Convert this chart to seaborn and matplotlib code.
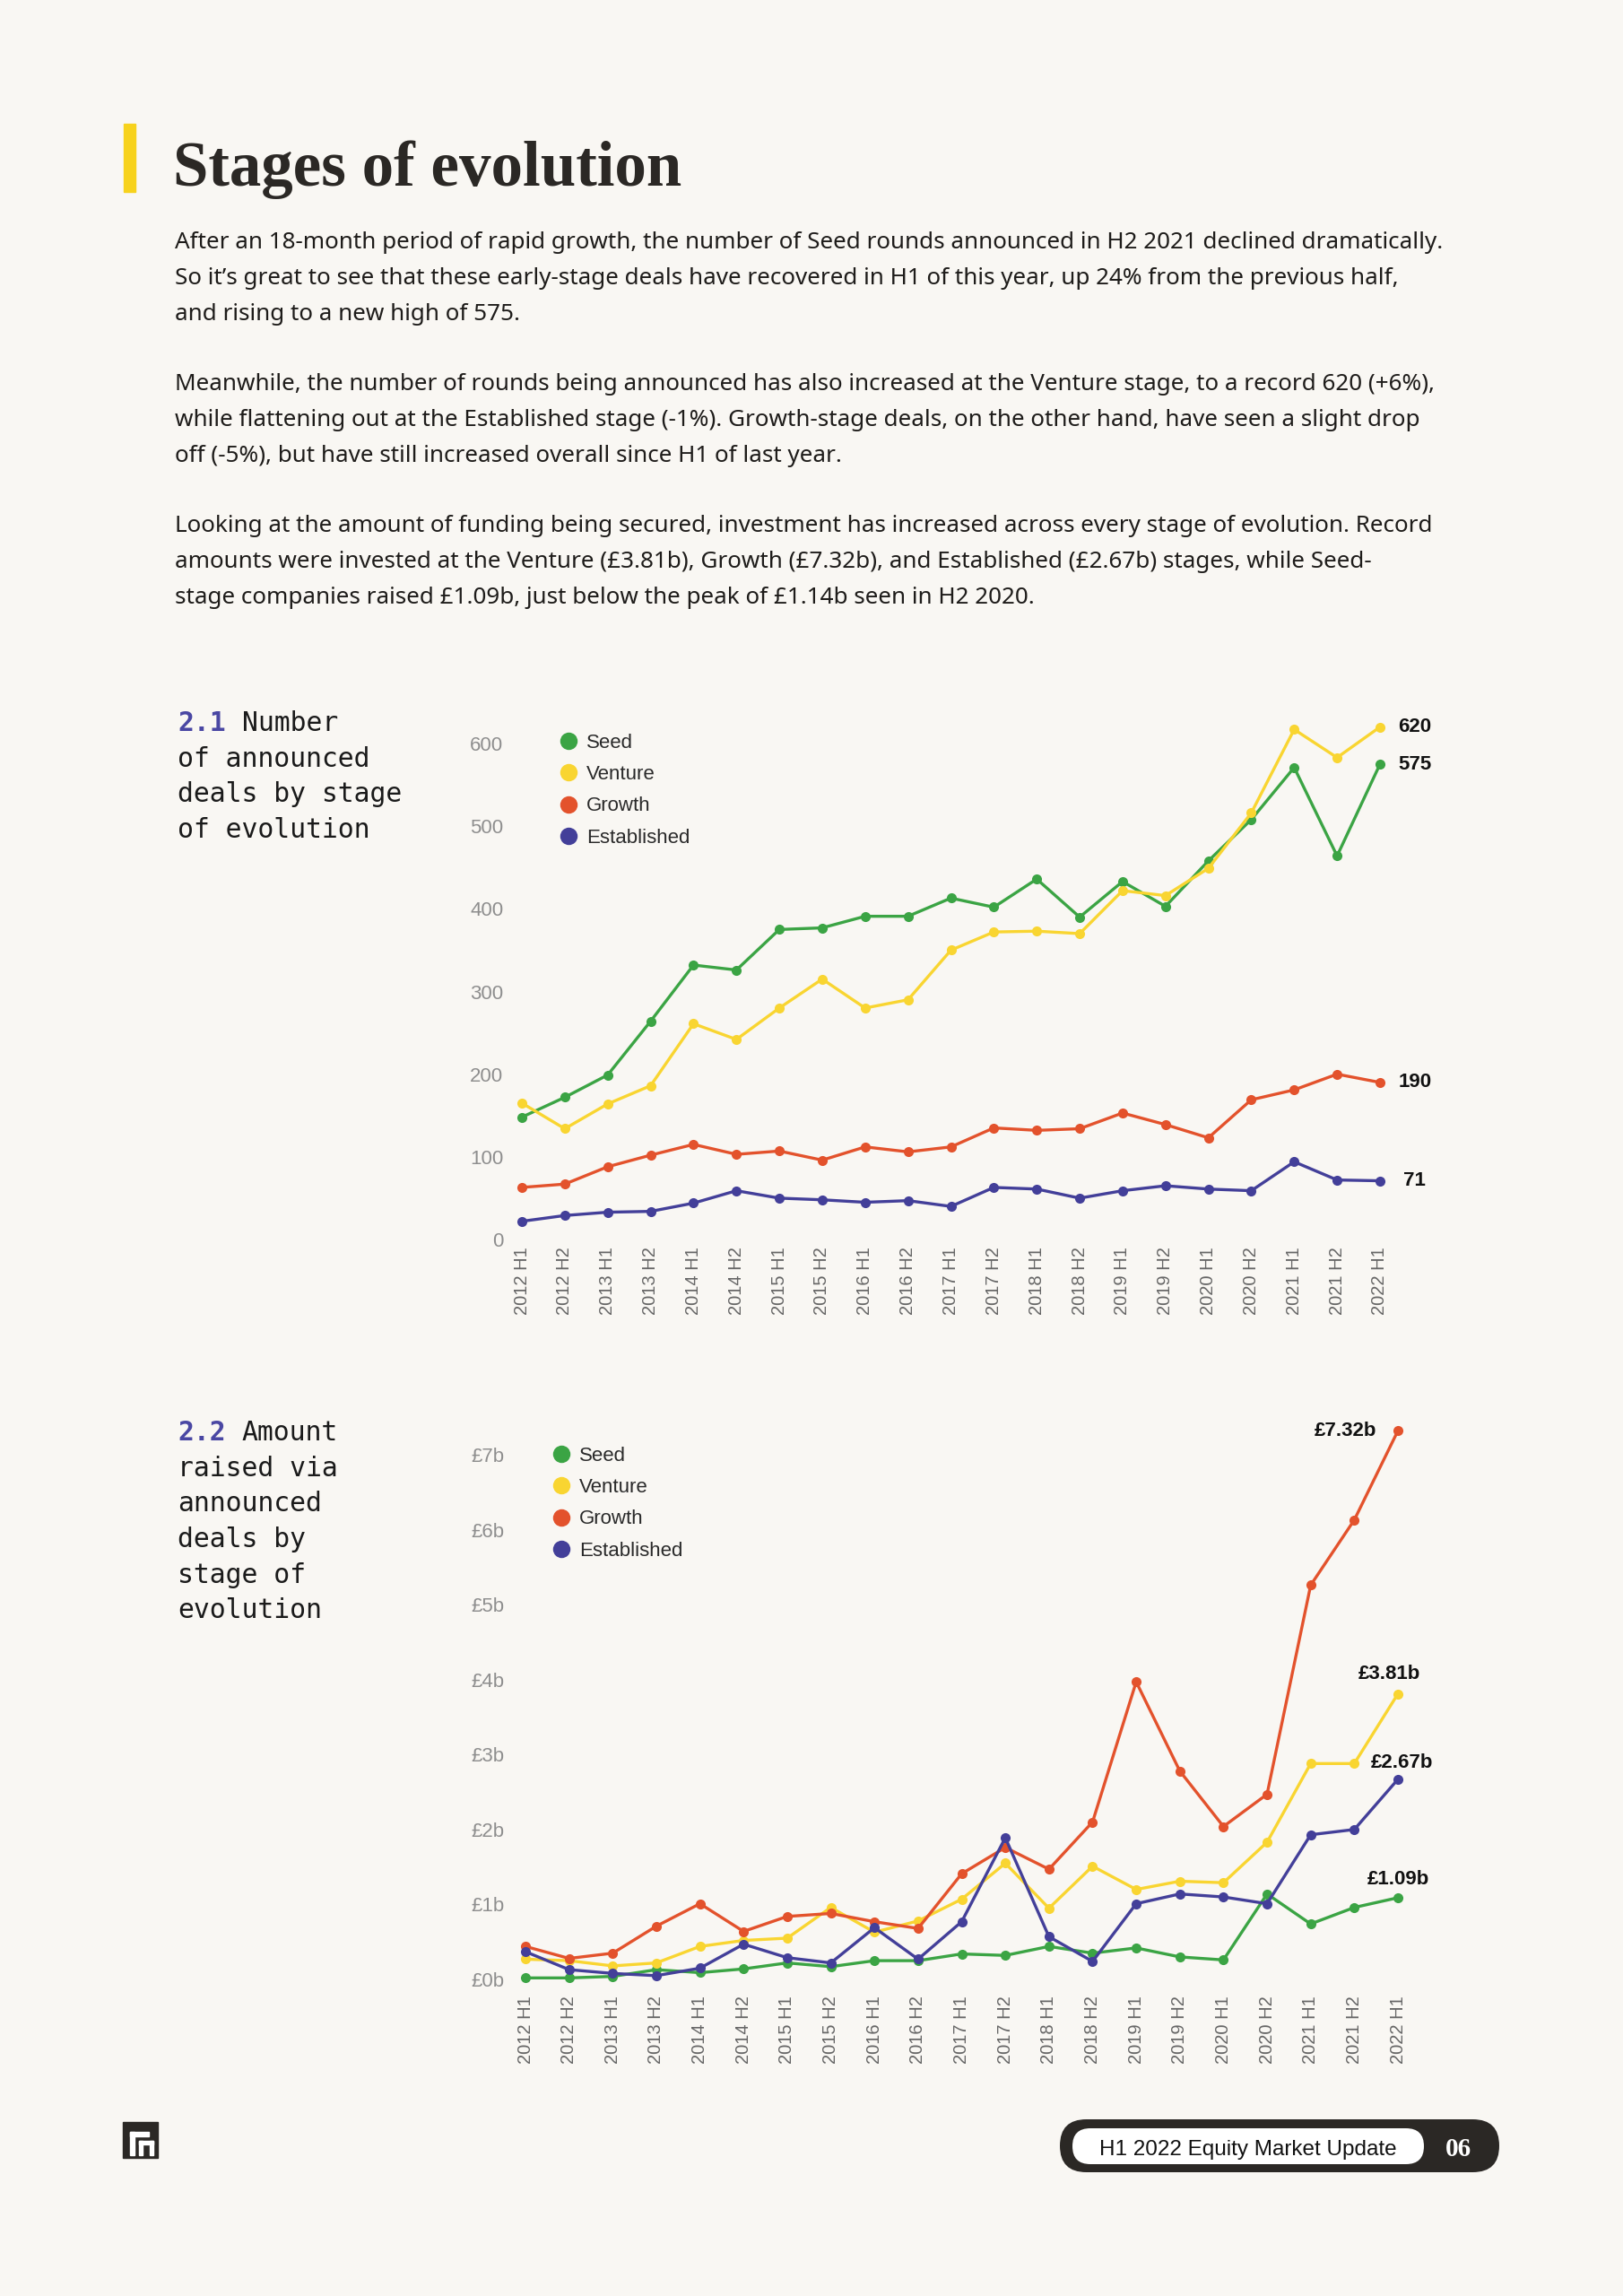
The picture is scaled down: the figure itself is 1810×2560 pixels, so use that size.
import pandas as pd
import matplotlib
matplotlib.use('Agg')
import matplotlib.pyplot as plt
from matplotlib.lines import Line2D
from matplotlib.patches import FancyBboxPatch, Rectangle
import seaborn as sns

# data
periods = ['2012 H1', '2012 H2', '2013 H1', '2013 H2', '2014 H1', '2014 H2', '2015 H1',
           '2015 H2', '2016 H1', '2016 H2', '2017 H1', '2017 H2', '2018 H1', '2018 H2',
           '2019 H1', '2019 H2', '2020 H1', '2020 H2', '2021 H1', '2021 H2', '2022 H1']
stages = ['Seed', 'Venture', 'Growth', 'Established']

# 2.1 number of deals
deals_seed = [148, 172, 199, 264, 332, 326, 375, 377, 391, 391, 413, 402, 436, 390, 433, 403, 458, 508, 571, 464, 575]
deals_venture = [165, 134, 164, 186, 261, 242, 280, 315, 280, 290, 350, 372, 373, 370, 422, 416, 449, 516, 617, 583, 620]
deals_growth = [63, 67, 88, 102, 115, 103, 107, 96, 112, 106, 112, 135, 132, 134, 153, 139, 123, 169, 181, 200, 190]
deals_established = [22, 29, 33, 34, 44, 59, 50, 48, 45, 47, 40, 63, 61, 50, 59, 65, 61, 59, 94, 72, 71]

# 2.2 amount raised (£b)
amount_seed = [0.02, 0.02, 0.04, 0.13, 0.09, 0.14, 0.22, 0.17, 0.25, 0.25, 0.34, 0.32, 0.44, 0.35, 0.42, 0.30, 0.26, 1.14, 0.74, 0.96, 1.09]
amount_venture = [0.27, 0.25, 0.18, 0.22, 0.44, 0.52, 0.55, 0.96, 0.63, 0.78, 1.07, 1.55, 0.95, 1.51, 1.20, 1.31, 1.29, 1.83, 2.88, 2.88, 3.81]
amount_growth = [0.44, 0.28, 0.35, 0.71, 1.01, 0.64, 0.84, 0.88, 0.77, 0.68, 1.41, 1.76, 1.47, 2.10, 3.97, 2.78, 2.04, 2.47, 5.26, 6.13, 7.32]
amount_established = [0.37, 0.13, 0.08, 0.05, 0.15, 0.47, 0.29, 0.22, 0.69, 0.27, 0.77, 1.89, 0.57, 0.24, 1.01, 1.14, 1.10, 1.01, 1.93, 2.00, 2.67]

deals_ticks = [0, 100, 200, 300, 400, 500, 600]
deals_ticklabels = ['0', '100', '200', '300', '400', '500', '600']
amount_ticks = [0, 1, 2, 3, 4, 5, 6, 7]
amount_ticklabels = ['£0b', '£1b', '£2b', '£3b', '£4b', '£5b', '£6b', '£7b']

paragraphs = [
    ["After an 18-month period of rapid growth, the number of Seed rounds announced in H2 2021 declined dramatically.",
     "So it’s great to see that these early-stage deals have recovered in H1 of this year, up 24% from the previous half,",
     "and rising to a new high of 575."],
    ["Meanwhile, the number of rounds being announced has also increased at the Venture stage, to a record 620 (+6%),",
     "while flattening out at the Established stage (-1%). Growth-stage deals, on the other hand, have seen a slight drop",
     "off (-5%), but have still increased overall since H1 of last year."],
    ["Looking at the amount of funding being secured, investment has increased across every stage of evolution. Record",
     "amounts were invested at the Venture (£3.81b), Growth (£7.32b), and Established (£2.67b) stages, while Seed-",
     "stage companies raised £1.09b, just below the peak of £1.14b seen in H2 2020."],
]

BG = '#f9f7f3'
DARK = '#2b2825'
PURPLE = '#4a47a3'
palette = {'Seed': '#3ba444', 'Venture': '#f9d531', 'Growth': '#e3522c', 'Established': '#433f99'}

W, H = 1810, 2560
sns.set_theme(style='white')
plt.rcParams['font.family'] = ['Liberation Sans', 'DejaVu Sans']

fig = plt.figure(figsize=(W / 100, H / 100), dpi=100, facecolor=BG)

# page layer in pixel coordinates
page = fig.add_axes([0, 0, 1, 1])
page.set_xlim(0, W)
page.set_ylim(H, 0)
page.axis('off')

# heading
page.add_patch(Rectangle((138, 138), 13, 76, color='#f7d21c'))
page.text(193, 207, 'Stages of evolution', family=['Liberation Serif'], weight='bold',
          fontsize=51, color=DARK, va='baseline')

y = 277
for para in paragraphs:
    for line in para:
        page.text(195, y, line, family=['Noto Sans', 'DejaVu Sans'], fontsize=18.75,
                  color='#1e1c1a', va='baseline')
        y += 40
    y += 38


def long_df(series):
    rows = []
    for stage, vals in zip(stages, series):
        for i, v in enumerate(vals):
            rows.append({'pos': i, 'value': v, 'stage': stage})
    return pd.DataFrame(rows)


def make_chart(left, top, right, bottom, df, ymax, ticks, ticklabels, xpad, ypad, legend_xy):
    ax = fig.add_axes([left / W, 1 - bottom / H, (right - left) / W, (bottom - top) / H])
    sns.lineplot(data=df, x='pos', y='value', hue='stage', hue_order=stages, palette=palette,
                 marker='o', markersize=8, markeredgewidth=0, linewidth=2.4,
                 errorbar=None, legend=False, ax=ax, clip_on=False)
    ax.set_xlim(0, 20)
    ax.set_ylim(0, ymax)
    ax.set_xticks(range(len(periods)))
    ax.set_xticklabels(periods, rotation=90, fontsize=14.5, color='#666666')
    ax.set_yticks(ticks)
    ax.set_yticklabels(ticklabels, fontsize=16, color='#8e8e8e')
    ax.tick_params(axis='x', length=0, pad=xpad)
    ax.tick_params(axis='y', length=0, pad=ypad)
    ax.set_xlabel('')
    ax.set_ylabel('')
    sns.despine(ax=ax, left=True, bottom=True)
    ax.patch.set_alpha(0)
    handles = [Line2D([], [], marker='o', ls='none', markersize=14, markeredgewidth=0,
                      color=palette[s]) for s in stages]
    ax.legend(handles, stages, loc='upper left',
              bbox_to_anchor=(legend_xy[0] / W, 1 - legend_xy[1] / H),
              bbox_transform=fig.transFigure, frameon=False, fontsize=16,
              handlelength=0.9, handletextpad=0.45, labelspacing=0.64,
              borderpad=0, borderaxespad=0, labelcolor='#2a2a2a')
    return ax


# 2.1 chart
ax1 = make_chart(582, 829, 1539, 1382, long_df([deals_seed, deals_venture, deals_growth, deals_established]),
                 600, deals_ticks, deals_ticklabels, 6, 15, (624, 818))
for vals in [deals_venture, deals_seed, deals_growth, deals_established]:
    ax1.annotate(str(vals[-1]), xy=(20, vals[-1]), xytext=(28, 0), textcoords='offset points',
                 ha='center', va='center', fontsize=16, weight='bold', color='#111111',
                 annotation_clip=False)

# 2.2 chart
ax2 = make_chart(586, 1622, 1559, 2207, long_df([amount_seed, amount_venture, amount_growth, amount_established]),
                 7, amount_ticks, amount_ticklabels, 13, 17, (616, 1613))
ax2.annotate(f'£{amount_growth[-1]:.2f}b', xy=(20, amount_growth[-1]), xytext=(-17, 0),
             textcoords='offset points', ha='right', va='center', fontsize=16, weight='bold',
             color='#111111', annotation_clip=False)
ax2.annotate(f'£{amount_venture[-1]:.2f}b', xy=(20, amount_venture[-1]), xytext=(-7, 8),
             textcoords='offset points', ha='center', va='bottom', fontsize=16, weight='bold',
             color='#111111', annotation_clip=False)
ax2.annotate(f'£{amount_established[-1]:.2f}b', xy=(20, amount_established[-1]), xytext=(3, 6),
             textcoords='offset points', ha='center', va='bottom', fontsize=16, weight='bold',
             color='#111111', annotation_clip=False)
ax2.annotate(f'£{amount_seed[-1]:.2f}b', xy=(20, amount_seed[-1]), xytext=(0, 7),
             textcoords='offset points', ha='center', va='bottom', fontsize=16, weight='bold',
             color='#111111', annotation_clip=False)

# side captions (monospace, so the first word sits 4 characters in)
mono = ['DejaVu Sans Mono']
cap_size = 21.4
char_w = 0.602 * cap_size * 100 / 72
cap1 = ['Number', 'of announced', 'deals by stage', 'of evolution']
cap2 = ['Amount', 'raised via', 'announced', 'deals by', 'stage of', 'evolution']
for num, lines, base in [('2.1', cap1, 815), ('2.2', cap2, 1606)]:
    page.text(198, base, num, family=mono, weight='bold', fontsize=cap_size, color=PURPLE, va='baseline')
    for i, line in enumerate(lines):
        x = 198 + (4 * char_w if i == 0 else 0)
        page.text(x, base + i * 39.7, line, family=mono, fontsize=cap_size, color='#1a1a1a', va='baseline')

# footer
page.add_patch(Rectangle((137, 2366), 39, 40, color=DARK))
page.add_patch(Rectangle((145, 2377), 5, 26, color='white'))
page.add_patch(Rectangle((145, 2377), 21, 5, color='white'))
page.add_patch(Rectangle((155, 2387), 16, 4, color='white'))
page.add_patch(Rectangle((155, 2387), 4, 16, color='white'))
page.add_patch(Rectangle((167, 2387), 4, 16, color='white'))

page.add_patch(FancyBboxPatch((1182, 2363), 490, 59, boxstyle='round,pad=0,rounding_size=29.5',
                              color=DARK, lw=0))
page.add_patch(FancyBboxPatch((1196, 2373), 392, 40, boxstyle='round,pad=0,rounding_size=20',
                              color='white', lw=0))
page.text(1392, 2403, 'H1 2022 Equity Market Update', fontsize=17.5, color='#111111',
          ha='center', va='baseline')
page.text(1626, 2404, '06', family=['Liberation Serif'], weight='bold', fontsize=21,
          color='white', ha='center', va='baseline')

fig.savefig('out.png', dpi=100, facecolor=BG)
